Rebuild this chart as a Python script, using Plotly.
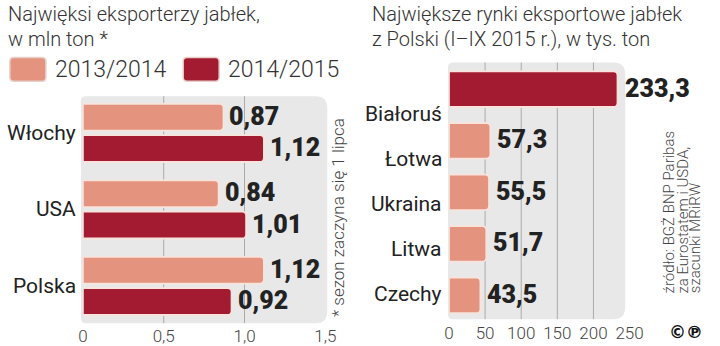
import plotly.graph_objects as go

# ---------------- data ----------------
exporters = ["Włochy", "USA", "Polska"]
season_labels = ["2013/2014", "2014/2015"]
exports_2013_14 = [0.87, 0.84, 1.12]
exports_2014_15 = [1.12, 1.01, 0.92]
left_ticks = [0, 0.5, 1.0, 1.5]
left_ticktext = ["0", "0,5", "1,0", "1,5"]

markets = ["Białoruś", "Łotwa", "Ukraina", "Litwa", "Czechy"]
market_volumes = [233.3, 57.3, 55.5, 51.7, 43.5]
right_ticks = [0, 50, 100, 150, 200, 250]
right_ticktext = ["0", "50", "100", "150", "200", "250"]

# ---------------- style ----------------
W, H = 720, 346
LIGHT = "#e3937e"
DARK = "#a31b31"
EDGE = "#f8e4dc"
PANEL = "#e8e8e8"
GRID = "#ababab"
TXT = "#222222"
SANS = "Roboto, 'Open Sans', sans-serif"
VALUE_FONT = dict(family=SANS, size=25, color=TXT, weight=900)


def px(x):
    return x / W


def py(y):
    return 1 - y / H


def rounded_rect(x0, y0, x1, y1, rl, rr):
    """Closed SVG path (paper coords) of a rectangle given in pixels,
    with left corner radius rl and right corner radius rr."""
    pts = [
        ("M", x0 + rl, y0), ("L", x1 - rr, y0), ("Q", x1, y0, x1, y0 + rr),
        ("L", x1, y1 - rr), ("Q", x1, y1, x1 - rr, y1), ("L", x0 + rl, y1),
        ("Q", x0, y1, x0, y1 - rl), ("L", x0, y0 + rl), ("Q", x0, y0, x0 + rl, y0),
    ]
    out = []
    for p in pts:
        cmd, coords = p[0], p[1:]
        xy = []
        for i in range(0, len(coords), 2):
            xy.append(f"{px(coords[i]):.5f},{py(coords[i + 1]):.5f}")
        out.append(cmd + " " + " ".join(xy))
    return " ".join(out) + " Z"


fig = go.Figure()

# ---------- left chart: grouped horizontal bars ----------
left_idx = list(range(len(exporters)))
bar_w = 0.35
offsets = [-0.38, 0.03]
for series, color, off, name in zip(
    [exports_2013_14, exports_2014_15], [LIGHT, DARK], offsets, season_labels
):
    fig.add_trace(go.Bar(
        x=series, y=left_idx, orientation="h", name=name,
        width=bar_w, offset=off,
        marker=dict(color=color, line=dict(color=EDGE, width=1.8)),
        xaxis="x", yaxis="y", showlegend=False, hoverinfo="x+name",
    ))

# ---------- right chart: single horizontal bars ----------
right_idx = list(range(len(markets)))
right_colors = [DARK] + [LIGHT] * (len(markets) - 1)
fig.add_trace(go.Bar(
    x=market_volumes, y=right_idx, orientation="h",
    width=0.69,
    marker=dict(color=right_colors, line=dict(color=EDGE, width=1.8)),
    xaxis="x2", yaxis="y2", showlegend=False, hoverinfo="x",
))

annotations = []
shapes = []

# gray rounded panels behind the bars
shapes.append(dict(type="path", path=rounded_rect(78, 97, 331, 326, 5, 12),
                   xref="paper", yref="paper", fillcolor=PANEL,
                   line=dict(width=0), layer="below"))
shapes.append(dict(type="path", path=rounded_rect(455, 63, 637, 322, 5, 12),
                   xref="paper", yref="paper", fillcolor=PANEL,
                   line=dict(width=0), layer="below"))

# inner vertical gridlines
for t in left_ticks[1:-1]:
    shapes.append(dict(type="line", xref="x", yref="paper", x0=t, x1=t,
                       y0=py(326), y1=py(97), line=dict(color=GRID, width=1),
                       layer="below"))
for t in right_ticks[1:-1]:
    shapes.append(dict(type="line", xref="x2", yref="paper", x0=t, x1=t,
                       y0=py(322), y1=py(63), line=dict(color=GRID, width=1),
                       layer="below"))

# value labels, left
for series, off in zip([exports_2013_14, exports_2014_15], offsets):
    for i, v in enumerate(series):
        annotations.append(dict(
            x=v, y=i + off + bar_w / 2, xref="x", yref="y",
            text=f"{v:.2f}".replace(".", ","), showarrow=False,
            xanchor="left", yanchor="middle", xshift=4, yshift=1,
            font=VALUE_FONT,
        ))

# value labels, right
for i, v in enumerate(market_volumes):
    annotations.append(dict(
        x=v, y=i, xref="x2", yref="y2",
        text=f"{v:.1f}".replace(".", ","), showarrow=False,
        xanchor="left", yanchor="middle", xshift=5, yshift=1,
        font=VALUE_FONT,
    ))

# category labels, left (centered on each group)
for i, c in enumerate(exporters):
    annotations.append(dict(
        x=px(75), y=i, xref="paper", yref="y", text=c, showarrow=False,
        xanchor="right", yanchor="middle",
        font=dict(family=SANS, size=21, color=TXT),
    ))

# category labels, right (evenly spaced down the panel)
lab_top, lab_step = 115, 45.5
for i, c in enumerate(markets):
    annotations.append(dict(
        x=px(451), y=py(lab_top + i * lab_step), xref="paper", yref="paper",
        text=c, showarrow=False, xanchor="right", yanchor="middle",
        font=dict(family=SANS, size=21, color=TXT),
    ))

# titles
title_font = dict(family=SANS, size=20, color="#333333", weight=300)
for x0, lines in [(1, ["Najwięksi eksporterzy jabłek,", "w mln ton *"]),
                  (375, ["Największe rynki eksportowe jabłek",
                         "z Polski (I–IX 2015 r.), w tys. ton"])]:
    for k, line in enumerate(lines):
        annotations.append(dict(
            x=px(x0), y=py(14 + k * 25), xref="paper", yref="paper",
            text=line, showarrow=False, xanchor="left", yanchor="middle",
            font=title_font,
        ))

# legend swatches and labels
for (sx, tx), color, lab in zip([(5, 49), (183, 227)], [LIGHT, DARK], season_labels):
    shapes.append(dict(type="path", path=rounded_rect(sx, 58, sx + 37, 82, 4, 4),
                       xref="paper", yref="paper", fillcolor=color,
                       line=dict(color="#e8d0c8", width=1.5)))
    annotations.append(dict(
        x=px(tx), y=py(70), xref="paper", yref="paper", text=lab,
        showarrow=False, xanchor="left", yanchor="middle",
        font=dict(family=SANS, size=23, color="#333333", weight=300),
    ))

# footnote
annotations.append(dict(
    x=px(342), y=py(219), xref="paper", yref="paper",
    text="* sezon zaczyna się 1 lipca", textangle=-90, showarrow=False,
    xanchor="center", yanchor="middle",
    font=dict(family=SANS, size=17, color="#444444", weight=300),
))

# source
for xc, line in zip([682, 696, 709], ["źródło: BGŻ BNP Paribas",
                                      "za Eurostatem i USDA,",
                                      "szacunki MRiRW"]):
    annotations.append(dict(
        x=px(xc), y=py(298), xref="paper", yref="paper", text=line,
        textangle=-90, showarrow=False, xanchor="center", yanchor="bottom",
        font=dict(family=SANS, size=15, color="#444444", weight=300),
    ))

# copyright / phonogram marks
annotations.append(dict(
    x=px(699), y=py(335), xref="paper", yref="paper", text="©℗",
    showarrow=False, xanchor="center", yanchor="middle",
    font=dict(family="'DejaVu Sans', sans-serif", size=17, color="#111111",
              weight="bold"),
))

tick_font = dict(family=SANS, size=17, color="#444444", weight=300)
fig.update_layout(
    width=W, height=H,
    margin=dict(l=0, r=0, t=0, b=0),
    paper_bgcolor="white", plot_bgcolor="rgba(0,0,0,0)",
    barmode="overlay", barcornerradius=4,
    xaxis=dict(domain=[px(80), px(329)], range=[0, 1.5], tickvals=left_ticks,
               ticktext=left_ticktext, showgrid=False, zeroline=False,
               showline=False, ticks="", tickfont=tick_font, anchor="y",
               fixedrange=True),
    yaxis=dict(domain=[py(327), py(95.5)], range=[len(exporters) - 0.5, -0.5],
               showticklabels=False, showgrid=False, zeroline=False,
               anchor="x", fixedrange=True),
    xaxis2=dict(domain=[px(456), px(641.5)], range=[0, 250], tickvals=right_ticks,
                ticktext=right_ticktext, showgrid=False, zeroline=False,
                showline=False, ticks="", tickfont=tick_font, anchor="y2",
                fixedrange=True),
    yaxis2=dict(domain=[py(324), py(64)], range=[len(markets) - 0.5, -0.5],
                showticklabels=False, showgrid=False, zeroline=False,
                anchor="x2", fixedrange=True),
    shapes=shapes, annotations=annotations,
)
fig.update_traces(cliponaxis=False)

fig.write_html("out.html")
